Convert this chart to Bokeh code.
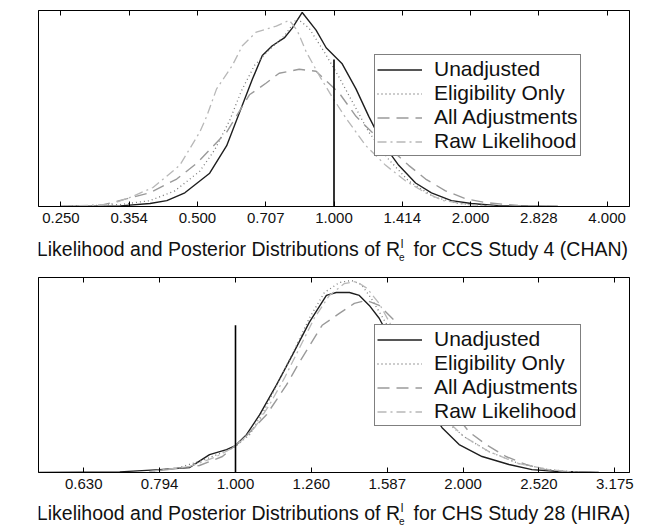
from bokeh.plotting import figure
from bokeh.layouts import column
from bokeh.models import FixedTicker, LogAxis, Legend, LegendItem, Range1d
from bokeh.core.properties import value
from bokeh.embed import file_html
from bokeh.resources import INLINE

# ---------------- data: panel 1 (CCS Study 4, CHAN) ----------------
p1_ticks = [0.25, 0.35355339, 0.5, 0.70710678, 1.0, 1.41421356, 2.0, 2.82842712, 4.0]
p1_tick_labels = ["0.250", "0.354", "0.500", "0.707", "1.000", "1.414", "2.000", "2.828", "4.000"]
p1_xrange = (0.22313016, 4.48168907)

p1_unadj_x = [0.249, 0.338, 0.393, 0.428, 0.469, 0.532, 0.580, 0.619, 0.661, 0.695, 0.731, 0.777, 0.809,
              0.851, 0.913, 0.961, 1.041, 1.118, 1.193, 1.274, 1.389, 1.513, 1.640, 1.815, 2.008, 2.301, 3.115]
p1_unadj_y = [0.0, 0.003, 0.015, 0.03, 0.07, 0.17, 0.31, 0.48, 0.65, 0.77, 0.82, 0.86, 0.91,
              0.99, 0.90, 0.81, 0.73, 0.60, 0.46, 0.33, 0.21, 0.12, 0.07, 0.03, 0.015, 0.004, 0.0]

p1_elig_x = [0.249, 0.338, 0.393, 0.446, 0.506, 0.546, 0.589, 0.625, 0.668, 0.720, 0.777, 0.829, 0.881,
             0.951, 1.026, 1.106, 1.193, 1.320, 1.461, 1.657, 1.880, 2.301]
p1_elig_y = [0.0, 0.01, 0.03, 0.08, 0.18, 0.29, 0.44, 0.59, 0.72, 0.80, 0.87, 0.96, 0.91,
             0.79, 0.66, 0.52, 0.38, 0.24, 0.13, 0.05, 0.015, 0.0]

p1_all_x = [0.249, 0.305, 0.350, 0.393, 0.450, 0.498, 0.580, 0.651, 0.709, 0.757, 0.838, 0.913, 1.026,
            1.118, 1.236, 1.461, 1.592, 1.761, 1.948, 2.155, 2.545, 3.115]
p1_all_y = [0.0, 0.005, 0.04, 0.07, 0.14, 0.22, 0.38, 0.57, 0.63, 0.68, 0.70, 0.69, 0.58,
            0.46, 0.36, 0.21, 0.14, 0.08, 0.04, 0.02, 0.005, 0.0]

p1_raw_x = [0.249, 0.321, 0.355, 0.399, 0.457, 0.506, 0.524, 0.551, 0.597, 0.628, 0.674, 0.746, 0.797,
            0.829, 0.868, 0.927, 0.990, 1.063, 1.176, 1.300, 1.439, 1.592, 1.743, 1.977, 2.301]
p1_raw_y = [0.0, 0.01, 0.046, 0.097, 0.21, 0.38, 0.46, 0.60, 0.72, 0.82, 0.89, 0.92, 0.95,
            0.90, 0.79, 0.67, 0.56, 0.45, 0.31, 0.21, 0.13, 0.07, 0.03, 0.01, 0.0]

p1_ref_x = [1.0]
p1_ref_top = [0.75]
p1_title_a = "Likelihood and Posterior Distributions of R"
p1_title_b = "for CCS Study 4 (CHAN)"

# ---------------- data: panel 2 (CHS Study 28, HIRA) ----------------
p2_ticks = [0.62996052, 0.79370053, 1.0, 1.25992105, 1.58740105, 2.0, 2.5198421, 3.1748021]
p2_tick_labels = ["0.630", "0.794", "1.000", "1.260", "1.587", "2.000", "2.520", "3.175"]
p2_xrange = (0.54881164, 3.32011692)

p2_unadj_x = [0.55, 0.703, 0.794, 0.870, 0.924, 0.973, 1.0, 1.034, 1.076, 1.133, 1.189, 1.252, 1.319, 1.359,
              1.415, 1.458, 1.503, 1.549, 1.646, 1.749, 1.876, 1.976, 2.119, 2.300, 2.467, 2.677, 3.023]
p2_unadj_y = [0.0, 0.003, 0.015, 0.026, 0.092, 0.117, 0.138, 0.194, 0.296, 0.449, 0.602, 0.770, 0.908, 0.923,
              0.923, 0.908, 0.857, 0.791, 0.60, 0.40, 0.23, 0.143, 0.082, 0.041, 0.015, 0.005, 0.0]

p2_elig_x = [0.770, 0.844, 0.910, 0.967, 1.0, 1.044, 1.092, 1.143, 1.196, 1.252, 1.311, 1.372, 1.423,
             1.467, 1.512, 1.559, 1.646, 1.749, 1.887, 2.006, 2.164, 2.370, 2.596, 2.846]
p2_elig_y = [0.005, 0.026, 0.066, 0.107, 0.133, 0.194, 0.321, 0.474, 0.628, 0.791, 0.923, 0.974, 0.985,
             0.964, 0.893, 0.806, 0.653, 0.474, 0.270, 0.184, 0.107, 0.046, 0.015, 0.0]

p2_all_x = [0.794, 0.896, 0.961, 1.034, 1.099, 1.168, 1.215, 1.302, 1.372, 1.436, 1.489, 1.549, 1.621,
            1.749, 1.887, 2.036, 2.145, 2.279, 2.421, 2.573, 2.735, 3.023]
p2_all_y = [0.010, 0.036, 0.082, 0.189, 0.296, 0.449, 0.566, 0.755, 0.816, 0.867, 0.883, 0.857, 0.781,
            0.577, 0.372, 0.209, 0.143, 0.082, 0.041, 0.015, 0.005, 0.0]

p2_raw_x = [0.770, 0.870, 0.938, 1.0, 1.060, 1.109, 1.161, 1.215, 1.271, 1.331, 1.393, 1.445, 1.493,
            1.549, 1.646, 1.749, 1.887, 2.006, 2.164, 2.370, 2.596, 2.846]
p2_raw_y = [0.005, 0.031, 0.077, 0.133, 0.230, 0.347, 0.485, 0.638, 0.791, 0.908, 0.969, 0.980, 0.944,
            0.867, 0.679, 0.474, 0.281, 0.184, 0.107, 0.046, 0.015, 0.0]

p2_ref_x = [1.0]
p2_ref_top = [0.755]
p2_title_a = "Likelihood and Posterior Distributions of R"
p2_title_b = "for CHS Study 28 (HIRA)"

series_names = ["Unadjusted", "Eligibility Only", "All Adjustments", "Raw Likelihood"]

FONT = "Liberation Sans"
INK = "#111111"
STYLES = [
    dict(line_color="#1e1e1e", line_width=1.4, line_dash="solid"),
    dict(line_color="#7a7a7a", line_width=1.3, line_dash="1 3"),
    dict(line_color="#9a9a9a", line_width=1.4, line_dash="12 7"),
    dict(line_color="#b8b8b8", line_width=1.3, line_dash="9 4 2 4"),
]


def panel(height, border_top, xr, ticks, tick_labels, curves, ref_x, ref_top, legend_y):
    p = figure(width=654, height=height, x_axis_type="log", y_axis_location=None,
               x_range=Range1d(*xr), y_range=Range1d(0, 1),
               output_backend="svg", toolbar_location=None,
               min_border_left=38, min_border_right=25,
               min_border_top=border_top, min_border_bottom=30)
    p.xgrid.visible = False
    p.ygrid.visible = False
    p.outline_line_color = "black"
    p.outline_line_width = 1
    p.background_fill_color = "white"

    ax = p.xaxis[0]
    ax.ticker = FixedTicker(ticks=ticks)
    ax.major_label_overrides = {t: l for t, l in zip(ticks, tick_labels)}
    ax.major_tick_in = 5
    ax.major_tick_out = 0
    ax.minor_tick_line_color = None
    ax.major_label_standoff = 6
    ax.major_label_text_font = FONT
    ax.major_label_text_font_size = "15px"
    ax.major_label_text_color = INK
    ax.axis_line_color = "black"

    top = LogAxis(ticker=FixedTicker(ticks=ticks),
                  major_label_overrides={t: "" for t in ticks},
                  major_label_text_font_size="1px", major_label_standoff=0,
                  major_tick_in=5, major_tick_out=0, minor_tick_line_color=None,
                  axis_line_color="black")
    p.add_layout(top, "above")

    renderers = []
    for (xs, ys), st in zip(curves, STYLES):
        renderers.append(p.line(xs, ys, **st))

    p.segment(x0=ref_x, y0=[0] * len(ref_x), x1=ref_x, y1=ref_top,
              line_color="black", line_width=1.6)

    legend = Legend(items=[LegendItem(label=n, renderers=[r]) for n, r in zip(series_names, renderers)],
                    location=(336, legend_y), orientation="vertical",
                    border_line_color="black", border_line_width=1,
                    background_fill_color="white", background_fill_alpha=1.0,
                    label_text_font=FONT, label_text_font_size="21px", label_text_color=INK,
                    label_height=23, glyph_height=23, glyph_width=45, spacing=0,
                    padding=2, margin=0, label_standoff=12)
    p.add_layout(legend)
    return p


def title_strip(height, base, text_a, text_b, r_end, for_start):
    # a frameless strip that holds the axis title with its sub/superscripted R
    t = figure(width=654, height=height, x_range=Range1d(0, 654), y_range=Range1d(0, height),
               output_backend="svg", toolbar_location=None,
               x_axis_location=None, y_axis_location=None,
               min_border_left=0, min_border_right=0, min_border_top=0, min_border_bottom=0)
    t.xgrid.visible = False
    t.ygrid.visible = False
    t.outline_line_color = None
    t.text(x=[r_end], y=[base], text=[text_a], text_align="right", text_baseline="alphabetic",
           text_font=value(FONT), text_font_size="19.5px", text_color=INK)
    t.text(x=[r_end + 1], y=[base + 5], text=["l"], text_align="left", text_baseline="alphabetic",
           text_font=value(FONT), text_font_size="12px", text_color=INK)
    t.text(x=[r_end - 1], y=[base - 8], text=["e"], text_align="left", text_baseline="alphabetic",
           text_font=value(FONT), text_font_size="10px", text_color=INK)
    t.text(x=[for_start], y=[base], text=[text_b], text_align="left", text_baseline="alphabetic",
           text_font=value(FONT), text_font_size="19.5px", text_color=INK)
    return t


fig1 = panel(236, 10, p1_xrange, p1_ticks, p1_tick_labels,
             [(p1_unadj_x, p1_unadj_y), (p1_elig_x, p1_elig_y), (p1_all_x, p1_all_y), (p1_raw_x, p1_raw_y)],
             p1_ref_x, p1_ref_top, 50)
title1 = title_strip(29, 17, p1_title_a, p1_title_b, 400, 415)
fig2 = panel(237, 12, p2_xrange, p2_ticks, p2_tick_labels,
             [(p2_unadj_x, p2_unadj_y), (p2_elig_x, p2_elig_y), (p2_all_x, p2_all_y), (p2_raw_x, p2_raw_y)],
             p2_ref_x, p2_ref_top, 46)
title2 = title_strip(29, 19, p2_title_a, p2_title_b, 400, 415)

layout = column(fig1, title1, fig2, title2, spacing=0)
open("out.html", "w").write(file_html(layout, INLINE))
